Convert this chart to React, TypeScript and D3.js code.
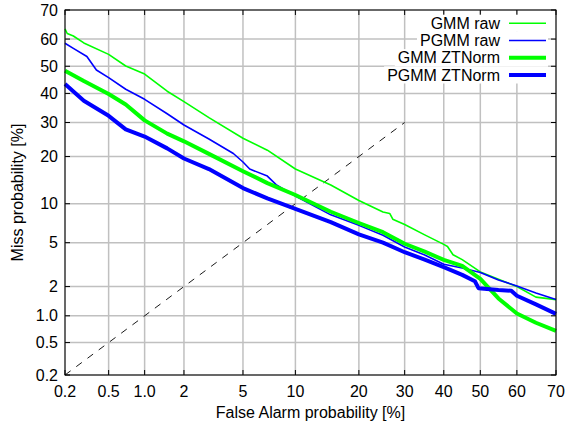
import * as d3 from "d3";
import { useEffect, useRef } from "react";

type P = [number, number];

// DET curves: [false alarm %, miss %]
const gmmRaw: P[] = [
  [0.2, 63.6], [0.21, 62.0], [0.24, 61.1], [0.3, 58.6], [0.5, 54.4], [0.7, 50.1],
  [1, 47.1], [1.5, 40.8], [2, 37.1], [3, 31.6], [5, 25.1], [7, 21.7], [10, 16.9],
  [15, 13.4], [20, 10.55], [25, 8.7], [26.5, 8.5], [27.2, 7.7], [30, 7.0], [35, 5.8],
  [40, 4.84], [41, 4.65], [42.5, 3.95], [45, 3.57], [50, 2.76], [55, 2.35], [60, 2.0],
  [65, 1.57], [70, 1.48],
];
const pgmmRaw: P[] = [
  [0.2, 58.5], [0.24, 56.6], [0.32, 53.6], [0.39, 48.6], [0.5, 45.8], [0.7, 41.5],
  [1, 37.9], [1.5, 32.9], [2, 29.2], [3, 24.9], [4.35, 20.8], [5, 18.6], [5.5, 16.9],
  [7, 15.3], [7.85, 13.5], [10, 11.3], [15, 8.3], [20, 6.9], [25, 5.75], [30, 4.6],
  [35, 3.93], [40, 3.25], [45, 3.0], [50, 2.73], [55, 2.32], [60, 2.03], [65, 1.73],
  [70, 1.48],
];
const gmmZt: P[] = [
  [0.2, 48.35], [0.3, 44.5], [0.5, 39.8], [0.7, 36.1], [1, 30.7], [1.5, 26.5],
  [2, 24.2], [3, 20.7], [5, 16.4], [7, 13.8], [10, 11.5], [15, 8.75], [20, 7.2],
  [25, 6.1], [30, 4.9], [35, 4.2], [40, 3.55], [45, 3.14], [50, 2.37], [55, 1.52],
  [60, 1.06], [65, 0.84], [70, 0.68],
];
const pgmmZt: P[] = [
  [0.2, 43.4], [0.3, 37.4], [0.5, 32.2], [0.7, 27.8], [1, 25.6], [1.5, 22.2],
  [2, 19.5], [3, 16.9], [5, 12.8], [7, 10.9], [10, 9.2], [15, 7.3], [20, 5.85],
  [25, 5.0], [30, 4.15], [35, 3.57], [40, 3.05], [45, 2.59], [48.5, 2.25], [49.5, 1.93],
  [55, 1.85], [58.5, 1.82], [60, 1.62], [65, 1.32], [70, 1.05],
];
const diagonal: P[] = [[0.2, 0.2], [30, 30]];

const tickValues = [0.2, 0.5, 1, 2, 5, 10, 20, 30, 40, 50, 60, 70];
const tickLabels = ["0.2", "0.5", "1.0", "2", "5", "10", "20", "30", "40", "50", "60", "70"];

const seriesNames = ["GMM raw", "PGMM raw", "GMM ZTNorm", "PGMM ZTNorm"];
const seriesData = [gmmRaw, pgmmRaw, gmmZt, pgmmZt];
const seriesColors = ["#00ff00", "#0000ff", "#00ff00", "#0000ff"];
const seriesWidths = [1.6, 1.6, 4, 4];

// inverse normal cdf (Acklam)
function probit(p: number) {
  const a = [-39.69683028665376, 220.9460984245205, -275.9285104469687, 138.357751867269, -30.66479806614716, 2.506628277459239];
  const b = [-54.47609879822406, 161.5858368580409, -155.6989798598866, 66.80131188771972, -13.28068155288572];
  const c = [-0.007784894002430293, -0.3223964580411365, -2.400758277161838, -2.549732539343734, 4.374664141464968, 2.938163982698783];
  const d = [0.007784695709041462, 0.3224671290700398, 2.445134137142996, 3.754408661907416];
  const plow = 0.02425;
  if (p < plow) {
    const q = Math.sqrt(-2 * Math.log(p));
    return (((((c[0] * q + c[1]) * q + c[2]) * q + c[3]) * q + c[4]) * q + c[5]) /
      ((((d[0] * q + d[1]) * q + d[2]) * q + d[3]) * q + 1);
  }
  if (p <= 1 - plow) {
    const q = p - 0.5;
    const r = q * q;
    return (((((a[0] * r + a[1]) * r + a[2]) * r + a[3]) * r + a[4]) * r + a[5]) * q /
      (((((b[0] * r + b[1]) * r + b[2]) * r + b[3]) * r + b[4]) * r + 1);
  }
  const q = Math.sqrt(-2 * Math.log(1 - p));
  return -(((((c[0] * q + c[1]) * q + c[2]) * q + c[3]) * q + c[4]) * q + c[5]) /
    ((((d[0] * q + d[1]) * q + d[2]) * q + d[3]) * q + 1);
}

export default function App() {
  const svgRef = useRef<SVGSVGElement>(null);
  const width = 565;
  const height = 432;

  useEffect(() => {
    document.body.style.margin = "0";
    const svg = d3.select(svgRef.current).attr("width", width).attr("height", height);
    svg.selectAll("*").remove();

    const left = 65, right = 556, top = 10, bottom = 375;
    const font = "'Liberation Sans', Arial, Helvetica, sans-serif";

    const xs = d3.scaleLinear().domain([probit(0.002), probit(0.7)]).range([left, right]);
    const ys = d3.scaleLinear().domain([probit(0.002), probit(0.7)]).range([bottom, top]);
    const fx = (v: number) => xs(probit(v / 100));
    const fy = (v: number) => ys(probit(v / 100));

    svg.append("rect").attr("width", width).attr("height", height).attr("fill", "#fff");

    // grid
    const grid = svg.append("g").attr("stroke", "#c0c0c0").attr("stroke-width", 1.5);
    grid.selectAll("line.gx").data(tickValues).enter().append("line")
      .attr("x1", d => fx(d)).attr("x2", d => fx(d)).attr("y1", top).attr("y2", bottom);
    grid.selectAll("line.gy").data(tickValues).enter().append("line")
      .attr("y1", d => fy(d)).attr("y2", d => fy(d)).attr("x1", left).attr("x2", right);

    // diagonal
    const line = d3.line<P>().x(d => fx(d[0])).y(d => fy(d[1]));
    svg.append("path").attr("d", line(diagonal)).attr("fill", "none")
      .attr("stroke", "#000").attr("stroke-width", 0.9).attr("stroke-dasharray", "7 7");

    // curves
    seriesData.forEach((s, i) => {
      svg.append("path").attr("d", line(s)).attr("fill", "none")
        .attr("stroke", seriesColors[i]).attr("stroke-width", seriesWidths[i])
        .attr("stroke-linejoin", "round");
    });

    // border + inward ticks
    svg.append("rect").attr("x", left).attr("y", top).attr("width", right - left)
      .attr("height", bottom - top).attr("fill", "none").attr("stroke", "#000").attr("stroke-width", 1);
    const ticks = svg.append("g").attr("stroke", "#000").attr("stroke-width", 1);
    tickValues.forEach(v => {
      ticks.append("line").attr("x1", fx(v)).attr("x2", fx(v)).attr("y1", bottom).attr("y2", bottom - 5);
      ticks.append("line").attr("x1", fx(v)).attr("x2", fx(v)).attr("y1", top).attr("y2", top + 5);
      ticks.append("line").attr("y1", fy(v)).attr("y2", fy(v)).attr("x1", left).attr("x2", left + 5);
      ticks.append("line").attr("y1", fy(v)).attr("y2", fy(v)).attr("x1", right).attr("x2", right - 5);
    });

    // tick labels
    svg.selectAll("text.xt").data(tickValues).enter().append("text")
      .attr("x", d => fx(d)).attr("y", 397).attr("text-anchor", "middle")
      .attr("font-family", font).attr("font-size", 16).attr("fill", "#000")
      .text((d, i) => tickLabels[i]);
    svg.selectAll("text.yt").data(tickValues).enter().append("text")
      .attr("x", 58).attr("y", d => fy(d)).attr("dy", "0.35em").attr("text-anchor", "end")
      .attr("font-family", font).attr("font-size", 16).attr("fill", "#000")
      .text((d, i) => tickLabels[i]);

    // axis titles
    svg.append("text").attr("x", (left + right) / 2).attr("y", 418).attr("text-anchor", "middle")
      .attr("font-family", font).attr("font-size", 16).text("False Alarm probability [%]");
    svg.append("text").attr("transform", `translate(23, ${(top + bottom) / 2}) rotate(-90)`)
      .attr("text-anchor", "middle").attr("font-family", font).attr("font-size", 16)
      .text("Miss probability [%]");

    // legend
    const legend = svg.append("g");
    seriesNames.forEach((name, i) => {
      const cy = 23.3 + i * 17.2;
      const row = legend.append("g");
      const bg = row.append("rect").attr("fill", "#fff");
      const t = row.append("text").attr("x", 500).attr("y", cy).attr("dy", "0.35em")
        .attr("text-anchor", "end").attr("font-family", font).attr("font-size", 16).text(name);
      const w = (t.node() as SVGTextElement).getComputedTextLength();
      bg.attr("x", 500 - w - 3).attr("y", cy - 8.6).attr("width", w + 51).attr("height", 17.2);
      row.append("line").attr("x1", 509).attr("x2", 546).attr("y1", cy).attr("y2", cy)
        .attr("stroke", seriesColors[i]).attr("stroke-width", seriesWidths[i]);
    });
  }, []);

  return <svg ref={svgRef}></svg>;
}
